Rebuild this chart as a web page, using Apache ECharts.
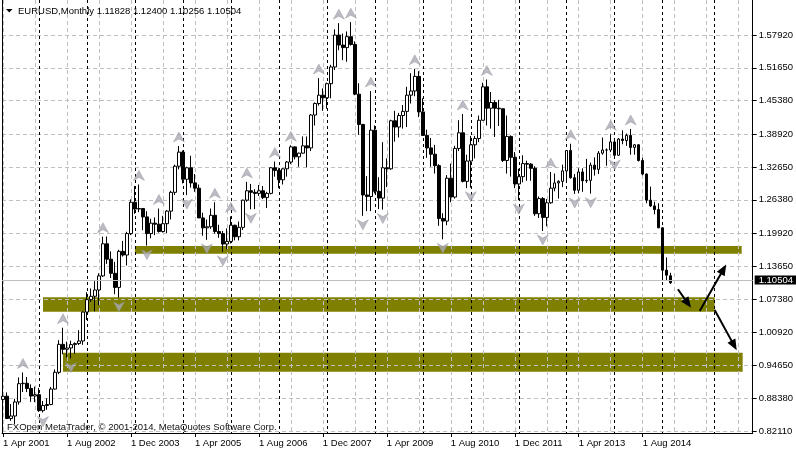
<!DOCTYPE html>
<html><head><meta charset="utf-8">
<script src="https://cdn.jsdelivr.net/npm/echarts@6/dist/echarts.min.js"></script>
<style>html,body{margin:0;padding:0;background:#fff}#c{width:796px;height:453px}</style>
</head><body><div id="c"></div>
<script>
// Monthly EURUSD, index 0 = Apr 2001
const open = [
0.8815,0.8877,0.8450,0.8498,0.8767,0.9117,0.9125,0.9025,0.8880,
0.8906,0.8601,0.8700,0.8718,0.9014,0.9335,0.9870,0.9775,0.9800,0.9865,0.9885,0.9934,
1.0488,1.0725,1.0790,1.0910,1.1180,1.1795,1.1500,1.1230,1.0960,1.1650,1.1580,1.1990,
1.2590,1.2460,1.2470,1.2310,1.1990,1.2190,1.2170,1.2030,1.2180,1.2420,1.2780,1.3280,
1.3550,1.3030,1.3250,1.2960,1.2860,1.2290,1.2100,1.2120,1.2340,1.2030,1.1990,1.1790,
1.1840,1.2150,1.1930,1.2110,1.2630,1.2810,1.2780,1.2760,1.2810,1.2680,1.2760,1.3250,
1.3200,1.3020,1.3230,1.3360,1.3650,1.3460,1.3530,1.3670,1.3630,1.4260,1.4480,1.4640,
1.4590,1.4860,1.5180,1.5790,1.5600,1.5550,1.5760,1.5610,1.4660,1.4080,1.2730,1.2700,
1.3970,1.2800,1.2670,1.3250,1.3230,1.4150,1.4030,1.4250,1.4330,1.4640,1.4720,1.5000,
1.4320,1.3870,1.3630,1.3510,1.3290,1.2280,1.2230,1.3050,1.2690,1.3620,1.3920,1.2990,
1.3380,1.3690,1.3810,1.4160,1.4800,1.4390,1.4500,1.4390,1.4380,1.3390,1.3850,1.3450,
1.2940,1.3080,1.3330,1.3320,1.3240,1.2370,1.2660,1.2300,1.2580,1.2860,1.2960,1.2990,
1.3190,1.3580,1.3060,1.2820,1.3170,1.3000,1.3010,1.3300,1.3220,1.3530,1.3590,1.3590,
1.3745,1.3490,1.3800,1.3770,1.3870,1.3640,1.3690,1.3390,1.3130,1.2630,1.2520,1.2450,
1.2100,1.1290,1.11828];
const high = [
0.9081,0.8950,0.8727,0.8827,0.9236,0.9332,0.9245,0.9104,0.9061,
0.9036,0.8785,0.8836,0.9052,0.9390,0.9950,1.0188,0.9922,0.9940,0.9907,1.0142,1.0501,
1.0867,1.0940,1.1080,1.1230,1.1932,1.1935,1.1650,1.1450,1.1680,1.1850,1.2025,1.2645,
1.2900,1.2930,1.2480,1.2420,1.2275,1.2300,1.2470,1.2330,1.2440,1.2810,1.3310,1.3667,
1.3580,1.3270,1.3480,1.3130,1.2930,1.2390,1.2260,1.2470,1.2590,1.2160,1.2040,1.2090,
1.2320,1.2160,1.2220,1.2640,1.2980,1.2940,1.2840,1.2920,1.2900,1.2790,1.3260,1.3370,
1.3240,1.3240,1.3380,1.3682,1.3660,1.3540,1.3850,1.3850,1.4280,1.4500,1.4967,1.4770,
1.4880,1.5220,1.5900,1.6019,1.5820,1.5860,1.6038,1.5670,1.4870,1.4090,1.3090,1.4719,
1.4060,1.3070,1.3740,1.3430,1.4170,1.4340,1.4300,1.4450,1.4800,1.5060,1.5144,1.5100,
1.4580,1.3980,1.3820,1.3690,1.3320,1.2380,1.3110,1.3330,1.3670,1.4160,1.4280,1.3500,
1.3860,1.3860,1.4250,1.4880,1.4940,1.4700,1.4540,1.4550,1.4380,1.4250,1.3870,1.3550,
1.3230,1.3490,1.3385,1.3340,1.3280,1.2700,1.2690,1.2650,1.3170,1.3140,1.3010,1.3310,
1.3590,1.3710,1.3130,1.3240,1.3240,1.3420,1.3350,1.3450,1.3570,1.3830,1.3620,1.3893,
1.3775,1.3820,1.3967,1.3905,1.3993,1.3700,1.3700,1.3440,1.3140,1.2890,1.2600,1.2570,
1.2110,1.1534,1.12400];
const low = [
0.8730,0.8440,0.8405,0.8344,0.8716,0.8957,0.8957,0.8768,0.8764,
0.8577,0.8565,0.8618,0.8705,0.9005,0.9300,0.9680,0.9620,0.9600,0.9690,0.9857,0.9860,
1.0335,1.0680,1.0502,1.0620,1.1160,1.1410,1.1140,1.0830,1.0762,1.1550,1.1380,1.1960,
1.2370,1.2400,1.2055,1.1760,1.1900,1.1960,1.2010,1.2010,1.2000,1.2260,1.2730,1.3220,
1.2950,1.2727,1.2870,1.2790,1.2290,1.1950,1.1870,1.2080,1.1990,1.1910,1.1640,1.1690,
1.1800,1.1860,1.1860,1.2060,1.2600,1.2455,1.2460,1.2710,1.2650,1.2480,1.2740,1.3080,
1.2860,1.2930,1.3080,1.3320,1.3410,1.3270,1.3520,1.3260,1.3570,1.4060,1.4440,1.4340,
1.4380,1.4580,1.5120,1.5500,1.5310,1.5280,1.5590,1.4640,1.3880,1.2330,1.2420,1.2420,
1.2760,1.2460,1.2450,1.2880,1.3210,1.3750,1.3830,1.4000,1.4030,1.4480,1.4620,1.4220,
1.3860,1.3440,1.3270,1.3140,1.2140,1.1880,1.2150,1.2590,1.2660,1.3570,1.2970,1.2860,
1.2870,1.3430,1.3740,1.4150,1.4060,1.4000,1.3840,1.4050,1.3360,1.3140,1.3080,1.2860,
1.2630,1.2970,1.3000,1.3000,1.2330,1.2290,1.2040,1.2130,1.2560,1.2800,1.2660,1.2880,
1.3000,1.3040,1.2750,1.2760,1.2790,1.2960,1.2755,1.3100,1.3130,1.3500,1.3290,1.3550,
1.3476,1.3480,1.3700,1.3670,1.3500,1.3500,1.3370,1.3105,1.2570,1.2500,1.2360,1.2100,
1.1098,1.1099,1.10256];
const close = [
0.8877,0.8450,0.8498,0.8767,0.9117,0.9125,0.9025,0.8880,0.8906,
0.8601,0.8700,0.8718,0.9014,0.9335,0.9870,0.9775,0.9800,0.9865,0.9885,0.9934,1.0488,
1.0725,1.0790,1.0910,1.1180,1.1795,1.1500,1.1230,1.0960,1.1650,1.1580,1.1990,1.2590,
1.2460,1.2470,1.2310,1.1990,1.2190,1.2170,1.2030,1.2180,1.2420,1.2780,1.3280,1.3550,
1.3030,1.3250,1.2960,1.2860,1.2290,1.2100,1.2120,1.2340,1.2030,1.1990,1.1790,1.1840,
1.2150,1.1930,1.2110,1.2630,1.2810,1.2780,1.2760,1.2810,1.2680,1.2760,1.3250,1.3200,
1.3020,1.3230,1.3360,1.3650,1.3460,1.3530,1.3670,1.3630,1.4260,1.4480,1.4640,1.4590,
1.4860,1.5180,1.5790,1.5600,1.5550,1.5760,1.5610,1.4660,1.4080,1.2730,1.2700,1.3970,
1.2800,1.2670,1.3250,1.3230,1.4150,1.4030,1.4250,1.4330,1.4640,1.4720,1.5000,1.4320,
1.3870,1.3630,1.3510,1.3290,1.2280,1.2230,1.3050,1.2690,1.3620,1.3920,1.2990,1.3380,
1.3690,1.3810,1.4160,1.4800,1.4390,1.4500,1.4390,1.4380,1.3390,1.3850,1.3450,1.2940,
1.3080,1.3330,1.3320,1.3240,1.2370,1.2660,1.2300,1.2580,1.2860,1.2960,1.2990,1.3190,
1.3580,1.3060,1.2820,1.3170,1.3000,1.3010,1.3300,1.3220,1.3530,1.3590,1.3590,1.3745,
1.3490,1.3800,1.3770,1.3870,1.3640,1.3690,1.3390,1.3130,1.2630,1.2520,1.2450,1.2100,
1.1290,1.1195,1.10504];

// Bill Williams fractal marks (bar indices)
const fractalUp = [5,15,25,34,39,44,53,57,61,68,72,79,84,87,92,103,115,121,137,142,152,157];
const fractalDown = [10,17,29,36,46,51,55,62,90,95,110,117,129,135,143,147,153];

// time axis labels (bar index -> label)
const labelIdx = [0,16,32,48,64,80,96,112,128,144,160];
const labelText = ['1 Apr 2001','1 Aug 2002','1 Dec 2003','1 Apr 2005','1 Aug 2006','1 Dec 2007','1 Apr 2009','1 Aug 2010','1 Dec 2011','1 Apr 2013','1 Aug 2014'];
const gridIdx = [0,8,16,24,32,40,48,56,64,72,80,88,96,104,112,120,128,136,144,152,160,168,176,184];
const yearSepIdx = [9,21,33,45,57,69,81,93,105,117,129,141,153,165,178];

// price scale labels
const priceTicks = [0.82110,0.88380,0.94650,1.00920,1.07380,1.13650,1.19920,1.26380,1.32650,1.38920,1.45380,1.51650,1.57920];
const lastPrice = 1.10504;

// support/resistance zones: [fromBar, toBar, priceTop, priceBottom]
const zones = [[33,184.75,1.1753,1.1606],[10,178,1.0771,1.0495],[15,185,0.9710,0.9346]];
// forecast arrows: [[bar, price] start, [bar, price] end]
const arrows = [
  [[168.8,1.0924],[171.3,1.0654]],
  [[174.25,1.0508],[180.2,1.1308]],
  [[178,1.0527],[182.85,0.9850]]
];

const FONT = '"Liberation Sans", Arial, sans-serif';
const FS = 9.5;
const X_MIN = -0.25, X_MAX = 187.5, Y_MIN = 0.81727, Y_MAX = 1.64620;

const candles = open.map((o,i)=>[i,o,close[i],low[i],high[i]]);

function xAx(extra){
  return Object.assign({type:'value',min:X_MIN,max:X_MAX,position:'bottom',z:2,
    axisLine:{show:false,onZero:false},axisTick:{show:false},axisLabel:{show:false},splitLine:{show:false}},extra);
}

const chart = echarts.init(document.getElementById('c'));
chart.setOption({
  animation:false,
  backgroundColor:'#fff',
  grid:{left:2,right:43,top:0,bottom:20,containLabel:false},
  xAxis:[
    xAx({axisLine:{show:true,onZero:false,lineStyle:{color:'#000',width:1}},
      axisTick:{show:true,length:4,customValues:labelIdx,lineStyle:{color:'#000'}},
      axisLabel:{show:true,customValues:labelIdx,formatter:v=>labelText[labelIdx.indexOf(v)]||'',
        align:'left',margin:5,color:'#000',fontSize:FS,fontFamily:FONT}}),
    xAx({axisTick:{show:false,customValues:gridIdx},
      splitLine:{show:true,lineStyle:{color:'#c0c0c0',width:1,type:[4,3]}}}),
    xAx({axisTick:{show:false,customValues:yearSepIdx},
      splitLine:{show:true,lineStyle:{color:'#000',width:1,type:[3,3]}}})
  ],
  yAxis:[
    {type:'value',min:Y_MIN,max:Y_MAX,position:'right',z:2,
      axisLine:{show:true,onZero:false,lineStyle:{color:'#000'}},
      axisTick:{show:true,length:4,customValues:priceTicks,lineStyle:{color:'#000'}},
      axisLabel:{customValues:priceTicks,formatter:v=>v.toFixed(5),margin:6,color:'#000',fontSize:FS,fontFamily:FONT},
      splitLine:{show:true,lineStyle:{color:'#c0c0c0',width:1,type:[4,3]}}},
    {type:'value',min:Y_MIN,max:Y_MAX,position:'left',z:2,
      axisLine:{show:true,onZero:false,lineStyle:{color:'#000'}},
      axisTick:{show:false},axisLabel:{show:false},splitLine:{show:false}}
  ],
  series:[
    {type:'line',data:[],z:1,silent:true,
      markArea:{silent:true,itemStyle:{color:'#808000'},
        data:zones.map(z=>[{coord:[z[0],z[2]]},{coord:[z[1],z[3]]}])}},
    {type:'candlestick',data:candles,barWidth:3,z:3,silent:true,
      itemStyle:{color:'#fff',color0:'#000',borderColor:'#000',borderColor0:'#000',borderWidth:1},
      markLine:{silent:true,symbol:'none',
        lineStyle:{color:'#c0c0c0',type:'solid',width:1},
        label:{show:true,position:'end',distance:2,formatter:()=>lastPrice.toFixed(5),
          backgroundColor:'#000',color:'#fff',fontSize:FS,fontFamily:FONT,padding:[0,4],lineHeight:9},
        data:[{yAxis:lastPrice}]}},
    {type:'scatter',z:4,silent:true,symbol:'path://M5.5,0 L11,10 L5.5,7 L0,10 Z',symbolSize:[11,10],symbolOffset:[0,-9],
      itemStyle:{color:'#aaaab4',borderColor:'#8c8c96',borderWidth:0.5},data:fractalUp.map(i=>[i,high[i]])},
    {type:'scatter',z:4,silent:true,symbol:'path://M0,0 L5.5,3 L11,0 L5.5,10 Z',symbolSize:[11,10],symbolOffset:[0,9],
      itemStyle:{color:'#aaaab4',borderColor:'#8c8c96',borderWidth:0.5},data:fractalDown.map(i=>[i,low[i]])},
    {type:'line',data:[],z:5,silent:true,
      markLine:{silent:true,symbol:['none','triangle'],symbolSize:[9,11],
        lineStyle:{color:'#000',width:2,type:'solid'},label:{show:false},
        data:arrows.map(a=>[{coord:a[0]},{coord:a[1]}])}}
  ],
  graphic:[
    {type:'polygon',z:10,shape:{points:[[6,9],[12.5,9],[9.25,12.5]]},style:{fill:'#000'}},
    {type:'text',z:10,x:18,y:11,style:{text:'EURUSD,Monthly 1.11828 1.12400 1.10256 1.10504',
      fontSize:FS,fontFamily:FONT,fill:'#000',verticalAlign:'middle'}},
    {type:'text',z:10,x:7,y:427,style:{text:'FXOpen MetaTrader, © 2001-2014, MetaQuotes Software Corp.',
      fontSize:FS,fontFamily:FONT,fill:'#111',verticalAlign:'middle'}}
  ]
});
</script></body></html>
